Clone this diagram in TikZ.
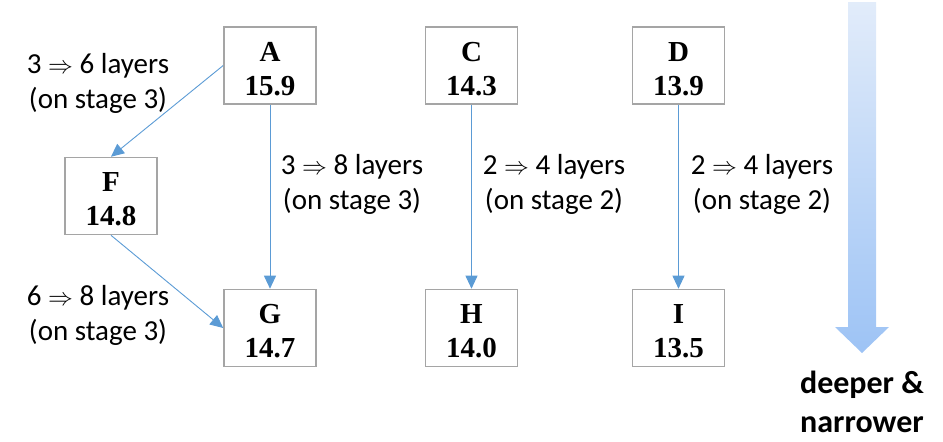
\documentclass[tikz,border=0pt]{standalone}
\usepackage{fontspec}
\setmainfont{Carlito}
\newfontfamily\boxfont{Liberation Serif}
\usetikzlibrary{arrows.meta,positioning}

\definecolor{boxgray}{RGB}{165,165,165}
\definecolor{edgeblue}{RGB}{91,155,213}
\definecolor{shadetop}{RGB}{226,236,250}
\definecolor{shadebot}{RGB}{157,195,245}

\begin{document}
\begin{tikzpicture}[x=1pt,y=-1pt,
    box/.style={draw=boxgray,line width=1.6pt,minimum width=92pt,minimum height=77pt,inner sep=0pt,align=center,
      font=\boxfont\bfseries\fontsize{29}{34}\selectfont},
    lbl/.style={align=center,font=\fontsize{29}{35}\selectfont},
    arrow/.style={draw=edgeblue,line width=0.9pt,-{Triangle[length=13pt,width=12pt]}}]
    \useasboundingbox (0,0) rectangle (943,442);
    % models
    \node[box] (A) at (270,65.5) {\rule{0pt}{26pt}A\\15.9};
    \node[box] (F) at (111,196) {\rule{0pt}{26pt}F\\14.8};
    \node[box] (G) at (270,328) {\rule{0pt}{26pt}G\\14.7};
    \node[box] (C) at (471.5,65.5) {\rule{0pt}{26pt}C\\14.3};
    \node[box] (H) at (471.5,328) {\rule{0pt}{26pt}H\\14.0};
    \node[box] (D) at (678.5,65.5) {\rule{0pt}{26pt}D\\13.9};
    \node[box] (I) at (678.5,328) {\rule{0pt}{26pt}I\\13.5};
    % edges
    \draw[arrow] (A.west) -- (F.north);
    \draw[arrow] (F.south) -- (G.west);
    \draw[arrow] (A.south) -- (G.north);
    \draw[arrow] (C.south) -- (H.north);
    \draw[arrow] (D.south) -- (I.north);
    % labels
    \node[lbl] (AF) at (98,83) {3 $\Rightarrow$ 6 layers\\(on stage 3)};
    \node[lbl] (FG) at (98,315) {6 $\Rightarrow$ 8 layers\\(on stage 3)};
    \node[lbl] (AG) at (352,184) {3 $\Rightarrow$ 8 layers\\(on stage 3)};
    \node[lbl] (CH) at (554,184) {2 $\Rightarrow$ 4 layers\\(on stage 2)};
    \node[lbl] (DI) at (762,184) {2 $\Rightarrow$ 4 layers\\(on stage 2)};
    % deeper arrow
    \shade[top color=shadetop,bottom color=shadebot]
      (848,2) -- (876,2) -- (876,327) -- (889,327) -- (862,353) -- (835,327) -- (848,327) -- cycle;
    \node[lbl,font=\bfseries\fontsize{32}{39}\selectfont] (dn) at (862,402) {deeper \&\\narrower};
\end{tikzpicture}
\end{document}
